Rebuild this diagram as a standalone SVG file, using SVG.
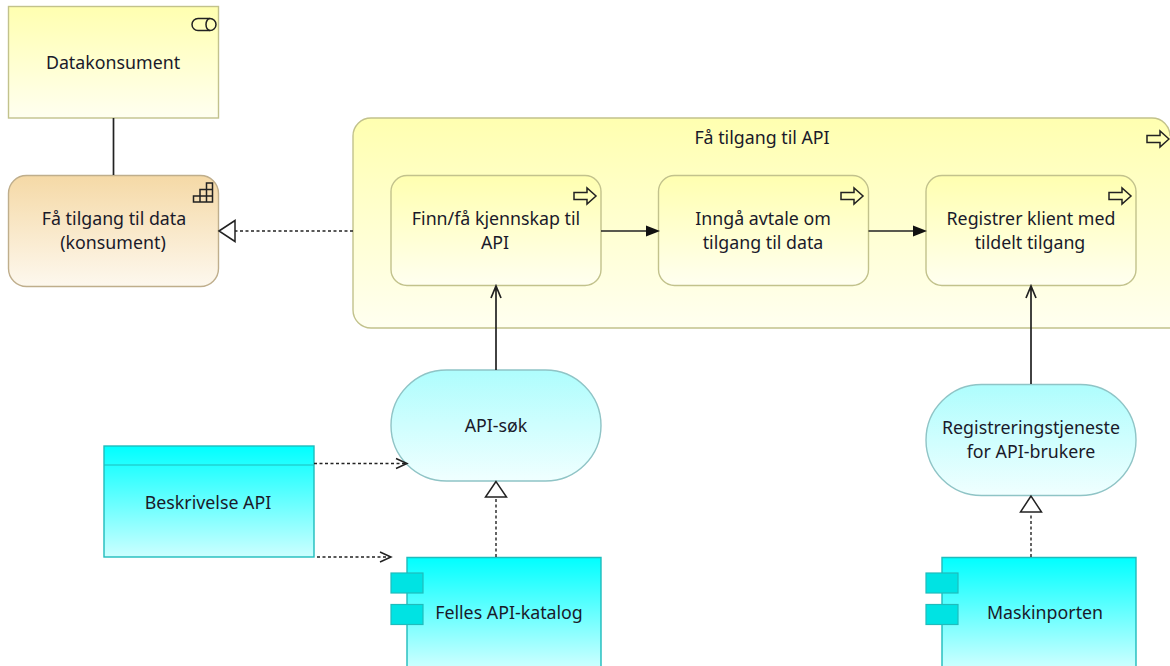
<svg xmlns="http://www.w3.org/2000/svg" width="1170" height="666" viewBox="0 0 1170 666">
<style>
text{font-family:"Noto Sans","Open Sans","Liberation Sans",sans-serif;font-size:17.800px;fill:#1a1a2a;text-anchor:middle}
.y{fill:url(#gy);stroke:#c2c28c;stroke-width:1.4}
.o{fill:url(#go);stroke:#bfae8c;stroke-width:1.4}
.c{fill:url(#gc);stroke:#1fbcbc;stroke-width:1.4}
.s{fill:url(#gs);stroke:#8fc4c6;stroke-width:1.4}
.t{fill:#00e3e3;stroke:#1fbcbc;stroke-width:1.2}
.i{fill:none;stroke:#222;stroke-width:1.5}
.l{fill:none;stroke:#222;stroke-width:1.7}
.d{fill:none;stroke:#222;stroke-width:1.4;stroke-dasharray:3 2.5}
.tri{fill:#fff;stroke:#222;stroke-width:1.5}
</style>
<defs>
<linearGradient id="gy" x1="0" y1="0" x2="0" y2="1"><stop offset="0" stop-color="#ffffb0"/><stop offset="1" stop-color="#fffff0"/></linearGradient>
<linearGradient id="go" x1="0" y1="0" x2="0" y2="1"><stop offset="0" stop-color="#f5d9a6"/><stop offset="1" stop-color="#fdf8ee"/></linearGradient>
<linearGradient id="gc" x1="0" y1="0" x2="0" y2="1"><stop offset="0" stop-color="#00ffff"/><stop offset="1" stop-color="#ccffff"/></linearGradient>
<linearGradient id="gs" x1="0" y1="0" x2="0" y2="1"><stop offset="0" stop-color="#aefdfd"/><stop offset="1" stop-color="#f0ffff"/></linearGradient>
<path id="arrowicon" d="M-11-3.500h13v-4.500l9 8-9 8v-4.500h-13z"/>
</defs>
<g id="n-datakonsument"><rect class="y" x="8.500" y="6.500" width="210" height="111.500"/>
<rect class="i" x="192" y="18.500" width="24" height="12" rx="6"/><path class="i" d="M210 18.500a4 6 0 0 0 0 12"/>
<text x="113" y="69">Datakonsument</text></g>
<g id="n-fa-tilgang-data"><rect class="o" x="8.500" y="175.500" width="210" height="111" rx="18"/>
<path class="i" d="M193.500 202V196H200V189.500H206.500V183H212.500V202ZM193.500 196H212.500M200 189.500H212.500M200 196V202M206.500 189.500V202"/>
<text x="114" y="225">Få tilgang til data</text><text x="113" y="249">(konsument)</text></g>
<g id="n-fa-tilgang-api"><path class="y" d="M1171 328H371a18 18 0 0 1-18-18V136a18 18 0 0 1 18-18h781a18 18 0 0 1 18 18"/>
<use href="#arrowicon" class="i" x="1158" y="139"/>
<text x="762" y="144">Få tilgang til API</text></g>
<g id="n-finn"><rect class="y" x="391" y="175.500" width="210" height="110" rx="16"/>
<use href="#arrowicon" class="i" x="585" y="196"/>
<text x="496" y="225">Finn/få kjennskap til</text><text x="495" y="249">API</text></g>
<g id="n-inngaa"><rect class="y" x="658.500" y="175.500" width="210" height="110" rx="16"/>
<use href="#arrowicon" class="i" x="852" y="196"/>
<text x="763" y="225">Inngå avtale om</text><text x="763" y="249">tilgang til data</text></g>
<g id="n-registrer"><rect class="y" x="926" y="175.500" width="210" height="110" rx="16"/>
<use href="#arrowicon" class="i" x="1120" y="196"/>
<text x="1031" y="225">Registrer klient med</text><text x="1030" y="249">tildelt tilgang</text></g>
<g id="n-api-sok"><rect class="s" x="391" y="370" width="210" height="111" rx="55.500"/>
<text x="496" y="432">API-søk</text></g>
<g id="n-registreringstjeneste"><rect class="s" x="926" y="384.500" width="210" height="111" rx="55.500"/>
<text x="1031" y="434">Registreringstjeneste</text><text x="1031" y="458">for API-brukere</text></g>
<g id="n-beskrivelse"><rect class="c" x="104" y="446" width="210" height="111"/><path d="M104 465h210" stroke="#1fbcbc" stroke-width="1.200"/>
<text x="208" y="509">Beskrivelse API</text></g>
<g id="n-felles"><path class="c" d="M407 667V557.500h194V667"/>
<rect class="t" x="391" y="573" width="32" height="20"/><rect class="t" x="391" y="604.500" width="32" height="20"/>
<text x="509" y="619">Felles API-katalog</text></g>
<g id="n-maskinporten"><path class="c" d="M942 667V557.500h194V667"/>
<rect class="t" x="926" y="573" width="32" height="20"/><rect class="t" x="926" y="604.500" width="32" height="20"/>
<text x="1045" y="619">Maskinporten</text></g>
<g id="connectors">
<path class="l" d="M113.500 118v57"/>
<path class="d" d="M353 231H235"/><path class="tri" d="M219 231l16-10.500v21z"/>
<path class="l" d="M601 231h45"/><path d="M660 231l-14-5.500v11z" fill="#111"/>
<path class="l" d="M868.500 231h45"/><path d="M927 231l-14-5.500v11z" fill="#111"/>
<path class="l" d="M496 370V286M491 298l5-12 5 12"/>
<path class="l" d="M1031 384V286M1026 298l5-12 5 12"/>
<path class="d" d="M496 557V498"/><path class="tri" d="M496 481.500l-10.500 15.500h21z"/>
<path class="d" d="M1031 557V513"/><path class="tri" d="M1031 496l-10.500 16h21z"/>
<path class="d" d="M314 463.500h92"/><path class="i" d="M396 458.500l11 5-11 5"/>
<path class="d" d="M317 557h73"/><path class="i" d="M380 552l11 5-11 5"/>
</g>
</svg>
